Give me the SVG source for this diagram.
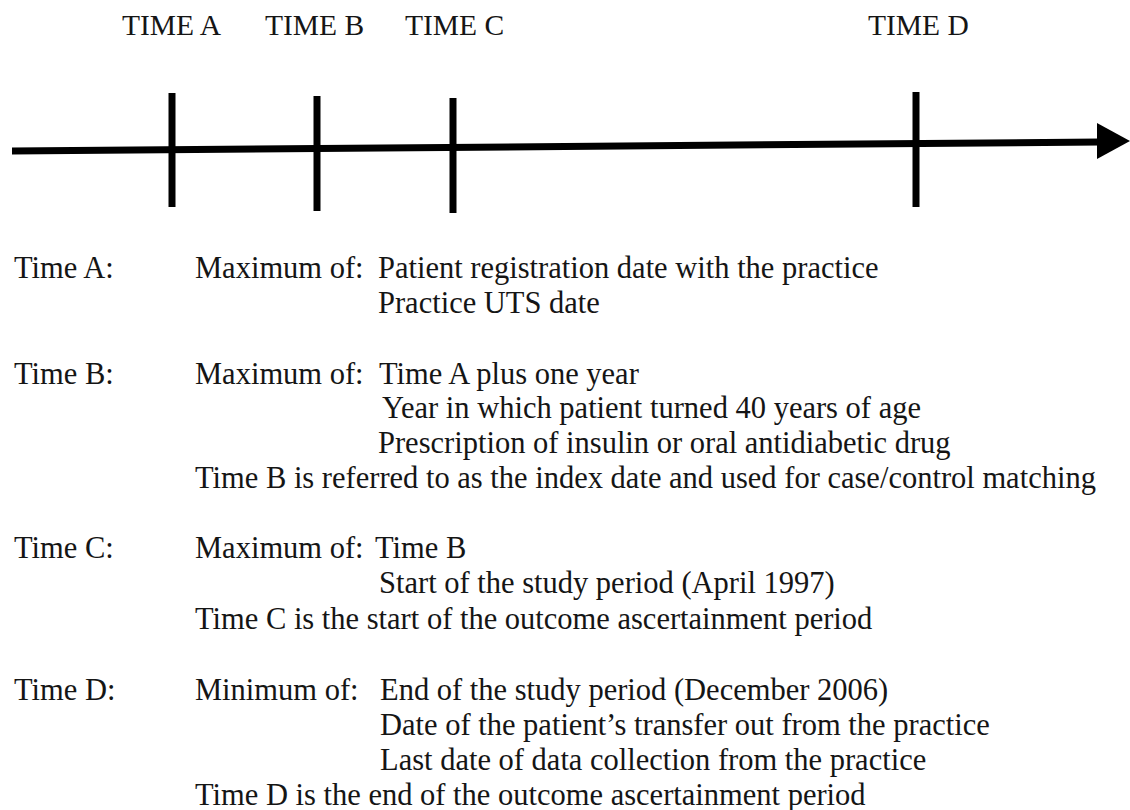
<svg xmlns="http://www.w3.org/2000/svg" width="1130" height="810" viewBox="0 0 1130 810">
<style>
  .hdr { font-family: "Liberation Serif", "Times New Roman", serif; font-size: 29.5px; fill: #151515; }
  .txt { font-family: "Liberation Serif", "Times New Roman", serif; font-size: 30.5px; fill: #151515; }
  .axis { stroke: #000; stroke-width: 7; fill: none; }
  .tick { stroke: #000; stroke-width: 7; }
</style>
<rect width="1130" height="810" fill="#ffffff"/>
<g id="connectors">
  <line class="axis" x1="12" y1="151" x2="1100" y2="142"/>
  <polygon points="1097,123 1130,141 1097,159" fill="#000"/>
</g>
<g id="time-a">
  <text class="hdr" x="122" y="35">TIME A</text>
  <line class="tick" x1="172" y1="93" x2="172" y2="207"/>
</g>
<g id="time-b">
  <text class="hdr" x="265" y="35">TIME B</text>
  <line class="tick" x1="317" y1="96" x2="317" y2="211"/>
</g>
<g id="time-c">
  <text class="hdr" x="405" y="35">TIME C</text>
  <line class="tick" x1="453" y1="98" x2="453" y2="213"/>
</g>
<g id="time-d">
  <text class="hdr" x="868" y="35">TIME D</text>
  <line class="tick" x1="916" y1="92" x2="916" y2="207"/>
</g>
<g id="def-a">
  <text class="txt" x="14" y="278">Time A:</text>
  <text class="txt" x="195" y="278">Maximum of:</text>
  <text class="txt" x="378" y="278">Patient registration date with the practice</text>
  <text class="txt" x="378" y="313">Practice UTS date</text>
</g>
<g id="def-b">
  <text class="txt" x="14" y="384">Time B:</text>
  <text class="txt" x="195" y="384">Maximum of:</text>
  <text class="txt" x="379" y="384">Time A plus one year</text>
  <text class="txt" x="382" y="418">Year in which patient turned 40 years of age</text>
  <text class="txt" x="378" y="453">Prescription of insulin or oral antidiabetic drug</text>
  <text class="txt" x="195" y="488">Time B is referred to as the index date and used for case/control matching</text>
</g>
<g id="def-c">
  <text class="txt" x="14" y="558">Time C:</text>
  <text class="txt" x="195" y="558">Maximum of:</text>
  <text class="txt" x="375" y="558">Time B</text>
  <text class="txt" x="379" y="593">Start of the study period (April 1997)</text>
  <text class="txt" x="195" y="629">Time C is the start of the outcome ascertainment period</text>
</g>
<g id="def-d">
  <text class="txt" x="14" y="700">Time D:</text>
  <text class="txt" x="195" y="700">Minimum of:</text>
  <text class="txt" x="380" y="700">End of the study period (December 2006)</text>
  <text class="txt" x="380" y="735">Date of the patient’s transfer out from the practice</text>
  <text class="txt" x="380" y="770">Last date of data collection from the practice</text>
  <text class="txt" x="195" y="805">Time D is the end of the outcome ascertainment period</text>
</g>
</svg>
